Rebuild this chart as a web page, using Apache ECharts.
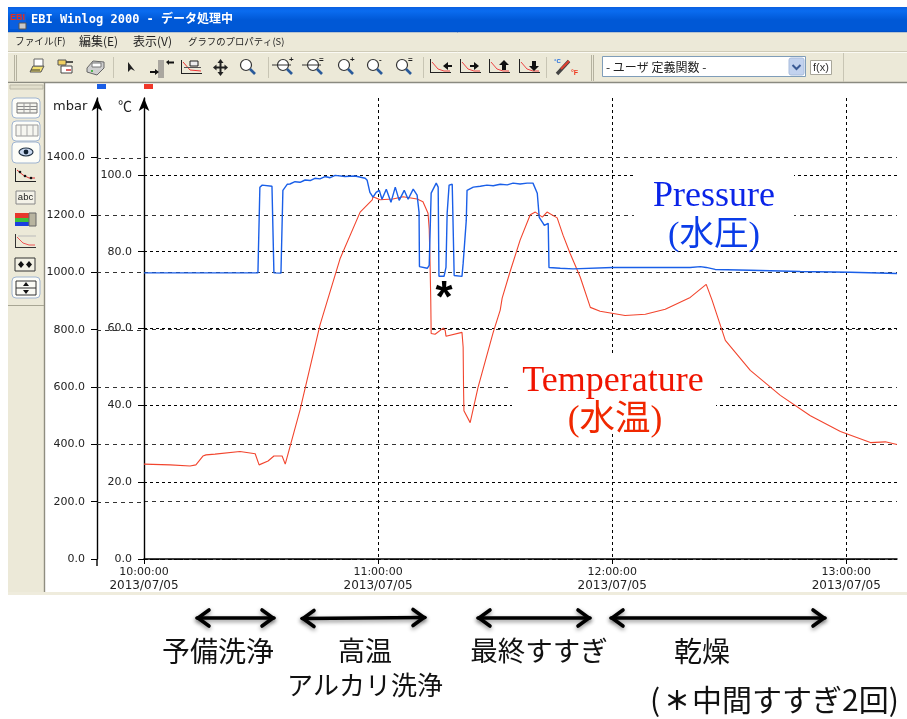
<!DOCTYPE html>
<html><head><meta charset="utf-8">
<style>html,body{margin:0;padding:0;background:#fff}#c{width:907px;height:719px}</style>
<script src="https://cdn.jsdelivr.net/npm/echarts@6/dist/echarts.min.js"></script>
</head><body><div id="c"></div>
<script>
const pressureMinutes=[0,29.2,29.7,30.3,32.8,33.3,35.1,35.6,36.7,37.4,38.7,40,41.3,42.6,43.8,45.1,46.4,47.7,49,51.5,54.1,56.7,57.2,57.9,58.7,59.5,60.3,61,62.1,63.3,64.4,65.4,66.7,67.7,69,70,70.5,70.6,72.6,73.1,73.6,74.9,75.4,75.6,76.9,77.4,77.7,78.2,79,79.5,81.5,81.8,82.6,82.8,84.4,86.2,87.9,89.5,91.3,93.1,94.6,96.4,98.2,99.7,100.8,101.3,102.3,102.6,103.6,103.8,106.7,110,120,140,142.6,144.1,146.4,155.4,168.2,181,193];
const pressureMbar=[998,998,1297,1304,1300,998,997,1286,1307,1308,1316,1314,1322,1320,1328,1326,1334,1330,1338,1334,1336,1328,1321,1279,1262,1279,1286,1255,1290,1244,1297,1251,1286,1255,1290,1269,1209,1020,1014,1024,1276,1311,1297,986,986,1017,1206,1304,1307,989,986,1031,1181,1286,1297,1300,1304,1302,1307,1305,1311,1308,1311,1311,1276,1192,1171,1164,1171,1017,1014,1012,1017,1017,1020,1017,1010,1007,1003,1000,996];
const tempMinutes=[0,6.7,11.8,13.3,15.1,15.9,18.2,24.6,28.5,29.5,31.8,33.3,35.4,36.2,37.2,40,45.1,50.3,55.4,58.5,58.7,60.5,63.8,66.4,70,71.5,72.8,73.1,73.3,73.5,73.6,74.6,76.7,77.2,77.4,81.5,81.8,81.9,82,83.6,85.6,89.5,91.3,91.8,93.8,96.4,99,100.3,102.1,103.3,105.9,107.4,109.2,111.8,114.4,116.9,123.3,128.5,133.6,140,144.1,145.6,149,155.4,163.1,170.8,178.5,186.2,190,193];
const tempC=[24.7,24.5,24.2,24.5,26.8,27.1,27.3,28,27.4,24.5,25.5,26.8,26.8,24.7,28.4,38.8,60.9,78.3,90.3,93.5,94.3,93.5,93.7,94.3,93.7,93,90,85.9,77.8,67.4,58.7,58.5,60.1,59.5,58,59,55.1,44.6,38.6,35.5,44.6,59,64.8,67.9,74.7,83,89.6,90.3,89,90.3,88.8,84.3,79.6,73.4,65.5,64.5,63.4,63.7,65,68.1,71.5,67.4,56.9,49.1,42.6,37.3,33.2,30.3,30.5,29.8];
const xTickMinutes=[0,60,120,180];
const xTickTimes=['10:00:00','11:00:00','12:00:00','13:00:00'];
const dateLabel='2013/07/05';
const pressureTicks=[0,200,400,600,800,1000,1200,1400];
const tempTicks=[0,20,40,60,80,100];

const Z=100;
const rect=(x,y,w,h,fill,stroke,r)=>({type:'rect',silent:true,z:Z,shape:{x,y,width:w,height:h,r:r||0},style:{fill:fill||'none',stroke:stroke||null,lineWidth:1}});
const line=(x1,y1,x2,y2,c,w)=>({type:'line',silent:true,z:Z,shape:{x1,y1,x2,y2},style:{stroke:c||'#000',lineWidth:w||1}});
const poly=(pts,c,w,extra)=>({type:'polyline',silent:true,z:Z,shape:{points:pts},style:Object.assign({stroke:c||'#000',lineWidth:w||1,fill:'none'},extra||{})});
const tri=(pts,c)=>({type:'polygon',silent:true,z:Z,shape:{points:pts},style:{fill:c||'#000'}});
const circ=(cx,cy,r,fill,stroke,w)=>({type:'circle',silent:true,z:Z,shape:{cx,cy,r},style:{fill:fill||'none',stroke:stroke||null,lineWidth:w||1}});
const text=(x,y,t,font,fill,align,extra)=>({type:'text',silent:true,z:Z+1,x,y,style:Object.assign({text:t,font,fill:fill||'#000',align:align||'left',verticalAlign:'middle'},extra||{})});

const g=[];
// window frame
g.push(rect(8,7,899,26,{type:'linear',x:0,y:0,x2:0,y2:1,colorStops:[{offset:0,color:'#0a5fe0'},{offset:.15,color:'#0a6cf0'},{offset:.5,color:'#0058d6'},{offset:.9,color:'#0058d6'},{offset:1,color:'#0046b8'}]}));
g.push(line(8,32.5,907,32.5,'#b8c4d0',1));
g.push(rect(8,33,899,50,'#ece9d8'));
g.push(line(8,52.5,907,52.5,'#fbfaf4',1), line(8,51.5,907,51.5,'#cfcbb8',1));
g.push(line(8,82.5,907,82.5,'#8a8a80',1.5));
// title
g.push(rect(10,12,16,17,'#0a5fe0'));
g.push(text(10,18,'EBI','bold 9px "Liberation Sans"','#e23020'));
g.push(rect(19,23,7,6,'#c8c8c8','#555'));
g.push(text(31,19.5,'EBI Winlog 2000 - データ処理中','bold 12px "DejaVu Sans Mono","Noto Sans CJK JP"','#fff'));
// menu
const mfn=s=>s+'px "Noto Sans CJK JP"';
g.push(text(15,41.5,'ファイル(F)',mfn(9.7),'#222'),text(79,41.5,'編集(E)',mfn(12),'#222'),text(133,41.5,'表示(V)',mfn(12),'#222'),text(188,41.5,'グラフのプロパティ(S)',mfn(9.4),'#222'));
// toolbar separators and grips
[14,16,591,593].forEach(x=>g.push(line(x+.5,55,x+.5,81,'#b5b2a0',1)));
[113,268,423,546].forEach(x=>g.push(line(x+.5,57,x+.5,78,'#c8c5b4',1)));
g.push(line(843.5,53,843.5,82,'#c8c5b4',1));
// file icons
g.push(poly([[30,72],[33,66],[44,66],[41,72],[30,72]],'#555',1,{fill:'#f2e070'}),rect(34,59,9,7,'#fff','#666'),line(31,70,40,70,'#333',1));
g.push(rect(58,60,8,5,'#f0d060','#555'),rect(61,66,11,7,'#fff','#444'),line(66,62,73,62,'#222',1.5),line(66,70,71,70,'#c33',1.5));
g.push(poly([[87,68],[93,61],[104,62],[104,68],[97,75],[87,72],[87,68]],'#666',1,{fill:'#cfcfcf'}),rect(92,63,9,4,'#fff','#777'),circ(92,71,1,'#2a2'));
// pointer, axis icons
g.push(tri([[128,62],[128,72],[131,69],[135,71]],'#222'));
g.push(rect(158,60,6,18,'#aaa7a0'),tri([[150,71],[155,71],[155,69],[159,72],[155,75],[155,73],[150,73]],'#111'),tri([[166,62],[169,60],[169,61.5],[174,61.5],[174,63.5],[169,63.5],[169,65]],'#111'));
g.push(line(181.5,60,181.5,74,'#222',1),line(181,73.5,202,73.5,'#222',1),poly([[183,62],[190,70],[201,71]],'#e33',1),rect(190,61,8,5,'#eee','#222'),line(184,67.5,201,67.5,'#555',1));
// move
g.push(line(215,67.5,226,67.5,'#222',2),line(220.5,62,220.5,73,'#222',2),tri([[220.5,59],[217.5,63],[223.5,63]],'#222'),tri([[220.5,76],[217.5,72],[223.5,72]],'#222'),tri([[213,67.5],[216.5,64.5],[216.5,70.5]],'#222'),tri([[228,67.5],[224.5,64.5],[224.5,70.5]],'#222'));
// magnifiers
const mag=(cx,note,cross)=>{g.push(circ(cx-2,65,5.5,'#fff','#333',1.2),line(cx+2,69,cx+7,74,'#2a5a9a',2.6));if(cross)g.push(line(cx-13,65,cx+6,65,'#333',1));if(note)g.push(text(cx+4,60,note,'bold 8px "Liberation Sans"','#222'));};
mag(248,'');mag(285,'+',true);mag(315,'=',true);mag(346,'+',false);mag(375,'-',false);mag(404,'=',false);
// chart-arrow icons
const chartIcon=(x,arrow)=>{g.push(line(x+.5,59,x+.5,73,'#222',1),line(x,72.5,x+21,72.5,'#222',1),poly([[x+2,62],[x+8,69],[x+14,71],[x+20,71]],'#e44',1));g.push(arrow);};
chartIcon(430,tri([[443,66],[448,62],[448,65],[452,65],[452,67],[448,67],[448,70]],'#111'));
chartIcon(460,tri([[479,66],[474,62],[474,65],[470,65],[470,67],[474,67],[474,70]],'#111'));
chartIcon(489,tri([[504,60],[499,65],[502,65],[502,70],[506,70],[506,65],[509,65]],'#111'));
chartIcon(519,tri([[534,71],[529,66],[532,66],[532,61],[536,61],[536,66],[539,66]],'#111'));
// thermometer
g.push(line(557,74,569,61,'#444',3.4),line(561,69,569,61,'#e04030',2.2),text(554,61,'°C','bold 6px "Liberation Sans"','#1a6ae0'),text(571,73,'°F','bold 7px "Liberation Sans"','#ee3a20'));
// dropdown
g.push(rect(602.5,56.5,203,20,'#fff','#7f9db9'));
g.push(text(606,67,'- ユーザ 定義関数 -','12px "Noto Sans CJK JP"','#222'));
g.push(rect(789,58,15,17,'#c2d2ee','#a8bcdc',2),poly([[792.5,65],[796.5,69],[800.5,65]],'#3a5a94',2));
g.push(rect(810.5,60.5,21,14,'#fff','#a8a69a'),text(821,67.5,'f(x)','11px "Liberation Sans"','#333','center'));
// color markers
g.push(rect(97,84,9,5,'#1a5ee6'),rect(144,84,9,5,'#f0382a'));
// left palette
g.push(rect(8,83,36,509,'#ece9d8'),line(44.5,83,44.5,592,'#8f8d80',1.4));
g.push(rect(10,85,33,4,'#e2dfcc','#bcb9a8'));
[[98,20],[121,20],[142,21],[277,21]].forEach(a=>g.push(rect(12,a[0],28,a[1],'#fdfdf8','#9fb4d0',4)));
g.push(rect(17,103,20,10,'#f4f4ee','#777'),line(17,106.5,37,106.5,'#888',1),line(17,109.5,37,109.5,'#888',1),line(24,103,24,113,'#999',1),line(30,103,30,113,'#999',1));
g.push(rect(16,125,22,11,'#f6f6f0','#999'),line(21,125,21,136,'#aaa',1),line(27,125,27,136,'#aaa',1),line(33,125,33,136,'#aaa',1));
g.push({type:'ellipse',silent:true,z:Z,shape:{cx:26,cy:152,rx:7,ry:4},style:{fill:'#c8d8f0',stroke:'#234',lineWidth:1.2}},circ(26,152,2.4,'#123'));
g.push(line(15.5,168,15.5,182,'#222',1),line(15,181.5,36,181.5,'#222',1),poly([[17,170],[23,175],[29,178],[35,178]],'#d33',1),circ(20,172,1.3,'#111'),circ(25,176,1.3,'#111'),circ(31,178,1.3,'#111'));
g.push(rect(16,191,19,13,'#f4f2e8','#888'),text(25.5,197.5,'abc','9.5px "Liberation Sans"','#222','center'));
g.push(rect(15,213,14,5,'#e8362c'),rect(15,218,14,4,'#3cc03c'),rect(15,222,14,4,'#1a3ee0'),rect(29,213,7,13,'#b8b4a0','#666'));
g.push(line(15.5,234,15.5,248,'#333',1),line(15,247.5,36,247.5,'#333',1),poly([[17,237],[23,243],[29,245],[35,245]],'#e55',1),line(18,236,36,236,'#bbb',1));
g.push(rect(15,258,20,13,'#f2f0e4','#333'),tri([[21,261],[18,264.5],[21,268],[24,264.5]],'#111'),tri([[29,261],[26,264.5],[29,268],[32,264.5]],'#111'));
g.push(rect(16,281,20,14,'#fafaf4','#333'),line(16,288,36,288,'#333',1),tri([[26,282],[23,286],[29,286]],'#111'),tri([[26,294],[23,290],[29,290]],'#111'));
g.push(line(8,305.5,44,305.5,'#a8a694',1));
// bottom
g.push(rect(8,592,899,3,'#efecdd'));
// pressure axis stub and labels
g.push(line(97,559,97,566,'#000',1.4));
g.push(text(53,107,'mbar','13px "DejaVu Sans"','#222'),text(118,106,'℃','14px "Noto Sans CJK JP"','#222'));
// white boxes under annotations
g.push(rect(634,172,160,77,'#fff'),rect(512,355,204,79,'#fff'));
// annotations
g.push(text(714,197,'Pressure','36px "Liberation Serif"','#0a24e8','center'));
g.push(text(714,236,'(水圧)','34.5px "Liberation Serif","Noto Sans CJK JP"','#0a3ce8','center'));
g.push(text(613,382,'Temperature','36px "Liberation Serif"','#f01400','center'));
g.push(text(615,421,'(水温)','35.5px "Liberation Serif","Noto Sans CJK JP"','#f02800','center'));
g.push(text(444,300,'*','bold 44px "Liberation Sans"','#000','center'));
// phase arrows
const shadow={shadowBlur:4,shadowColor:'rgba(0,0,0,.45)',shadowOffsetY:2};
const dbl=(x1,y1,x2,y2)=>{const o=Object.assign({lineCap:'round',lineJoin:'miter'},shadow);
 g.push(poly([[x1,y1],[x2,y2]],'#000',3.4,o));
 g.push(poly([[x1+12,y1-8],[x1+1,y1],[x1+12,y1+8]],'#000',3.6,o));
 g.push(poly([[x2-12,y2-8],[x2-1,y2],[x2-12,y2+8]],'#000',3.6,o));};
dbl(197,618,274,618);dbl(302,618.5,425,617.5);dbl(478,618,590,618);dbl(611,618,825,618);
const jf=s=>s+'px "Noto Sans CJK JP"';
g.push(text(218,651,'予備洗浄',jf(28),'#111','center'));
g.push(text(365,651,'高温',jf(27),'#111','center'));
g.push(text(365,685,'アルカリ洗浄',jf(26),'#111','center'));
g.push(text(539,651,'最終すすぎ',jf(27.5),'#111','center'));
g.push(text(702,651,'乾燥',jf(28),'#111','center'));
g.push(text(650,700,'(',jf(30),'#111'));
g.push(text(677,700,'＊','bold 26px "Noto Sans CJK JP"','#111','center'));
g.push(text(692,700,'中間すすぎ2回)',jf(30),'#111'));

const chart=echarts.init(document.getElementById('c'),null,{renderer:'canvas'});
const axisFont={fontFamily:'DejaVu Sans',fontSize:11,color:'#222'};
const PMAX=1608;
const option={
 animation:false,backgroundColor:'#fff',
 grid:{left:144,right:10,top:98,bottom:160,containLabel:false},
 xAxis:{type:'value',min:0,max:193,interval:60,position:'bottom',
  axisLine:{lineStyle:{color:'#000',width:1.5}},
  axisTick:{show:true,length:5,customValues:xTickMinutes,lineStyle:{color:'#000'}},
  axisLabel:{customValues:xTickMinutes,margin:7,lineHeight:13,
   formatter:v=>'{a|'+xTickTimes[xTickMinutes.indexOf(v)]+'}\n{b|'+dateLabel+'}',
   rich:{a:{fontFamily:'DejaVu Sans',fontSize:11,color:'#222',lineHeight:13},b:{fontFamily:'DejaVu Sans',fontSize:12,color:'#222',lineHeight:13}}},
  splitLine:{show:true,lineStyle:{color:'#000',type:[3,3],width:1}}},
 yAxis:[
  {type:'value',position:'left',offset:47,min:0,max:PMAX,interval:200,
   axisLine:{show:true,onZero:false,symbol:['none','arrow'],symbolSize:[8,13],lineStyle:{color:'#000',width:1.4}},
   axisTick:{show:true,length:6,customValues:pressureTicks,lineStyle:{color:'#000'}},
   axisLabel:Object.assign({customValues:pressureTicks,margin:12,formatter:v=>v.toFixed(1)},axisFont),
   splitLine:{show:true,lineStyle:{color:'#333',type:[4,4],width:1}}},
  {type:'value',position:'left',offset:0,min:0,max:120,interval:20,
   axisLine:{show:true,onZero:false,symbol:['none','arrow'],symbolSize:[8,13],lineStyle:{color:'#000',width:1.4}},
   axisTick:{show:true,length:6,customValues:tempTicks,lineStyle:{color:'#000'}},
   axisLabel:Object.assign({customValues:tempTicks,margin:12,formatter:v=>v.toFixed(1)},axisFont),
   splitLine:{show:true,lineStyle:{color:'#000',type:[3,3],width:1}}}
 ],
 series:[
  {name:'Temperature',type:'line',yAxisIndex:1,symbol:'none',silent:true,lineStyle:{color:'#f2452e',width:1.1},data:tempMinutes.map((t,i)=>[t,tempC[i]])},
  {name:'Pressure',type:'line',yAxisIndex:0,symbol:'none',silent:true,lineStyle:{color:'#1a5fe8',width:1.4},data:pressureMinutes.map((t,i)=>[t,pressureMbar[i]])}
 ],
 graphic:{elements:g}
};
chart.setOption(option);
// pressure gridlines also cross the gap between the two vertical axes
const gaps=pressureTicks.filter(v=>v>0).map(v=>{const y=Math.round(chart.convertToPixel({yAxisIndex:0},v))+.5;
 return {type:'line',silent:true,z:1,shape:{x1:97,y1:y,x2:144,y2:y},style:{stroke:'#333',lineWidth:1,lineDash:[4,4]}};});
chart.setOption({graphic:{elements:g.concat(gaps)}});
</script></body></html>
